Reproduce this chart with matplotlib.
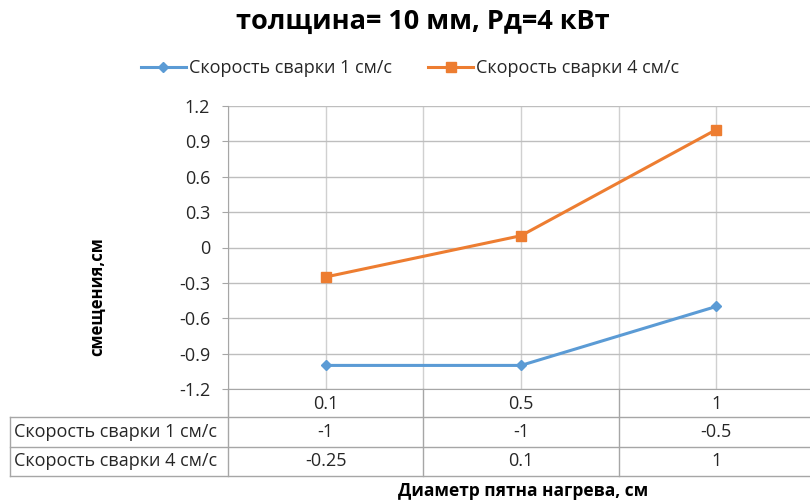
import matplotlib
matplotlib.use("Agg")
import matplotlib.pyplot as plt
from matplotlib.lines import Line2D

plt.rcParams['font.family'] = ['Open Sans', 'DejaVu Sans']

# Data
categories = ["0.1", "0.5", "1"]
series_names = ["Скорость сварки 1 см/с", "Скорость сварки 4 см/с"]
speed_1 = [-1, -1, -0.5]
speed_4 = [-0.25, 0.1, 1]
table_text_1 = ["-1", "-1", "-0.5"]
table_text_4 = ["-0.25", "0.1", "1"]
yticks = [-1.2, -0.9, -0.6, -0.3, 0, 0.3, 0.6, 0.9, 1.2]
ytick_labels = ["-1.2", "-0.9", "-0.6", "-0.3", "0", "0.3", "0.6", "0.9", "1.2"]

title = "толщина= 10 мм, Рд=4 кВт"
xlabel = "Диаметр пятна нагрева, см"
ylabel = "смещения,см"

BLUE = "#5B9BD5"
ORANGE = "#ED7D31"
GRID_H = "#BEBEBE"
GRID_V = "#D0D0D0"
BORDER = "#A6A6A6"
TEXT = "#262626"

W, H = 810, 503
fig = plt.figure(figsize=(W / 100, H / 100), dpi=100)
fig.patch.set_facecolor("white")


def fx(px):
    return px / W


def fy(py):
    return 1 - py / H


# plot area (pixel bounds)
L, R, T, B = 228, 814, 106, 389
ax = fig.add_axes([fx(L), fy(B), fx(R) - fx(L), fy(T) - fy(B)])
ax.set_xlim(-0.5, len(categories) - 0.5)
ax.set_ylim(yticks[0], yticks[-1])

x = list(range(len(categories)))
ax.plot(x, speed_1, color=BLUE, lw=2.2, marker="D", ms=5.5, mec=BLUE, mfc=BLUE,
        label=series_names[0], zorder=3, clip_on=False)
ax.plot(x, speed_4, color=ORANGE, lw=2.2, marker="s", ms=6.5, mec=ORANGE, mfc=ORANGE,
        label=series_names[1], zorder=3, clip_on=False)

tfs = 13
ax.set_yticks(yticks)
ax.set_yticklabels(ytick_labels, fontsize=tfs, color=TEXT)
ax.set_xticks(x)
ax.set_xticks([i - 0.5 for i in x], minor=True)
ax.tick_params(axis="x", which="both", length=0, labelbottom=False)
ax.tick_params(axis="y", length=4.3, color=BORDER, pad=8.6)
ax.grid(axis="y", color=GRID_H, lw=1.0)
ax.grid(axis="x", which="major", color=GRID_V, lw=1.0)
ax.grid(axis="x", which="minor", color=GRID_V, lw=1.0)
ax.set_axisbelow(True)
for s in ["top", "right"]:
    ax.spines[s].set_visible(False)
ax.spines["left"].set_color(BORDER)
ax.spines["bottom"].set_color(BORDER)

# data table below the plot area
row_lines = [417, 447, 476]
col_px = [L + (R - L) * i / len(categories) for i in range(len(categories) + 1)]
tbl_left = 10


def hline(y, x0, x1):
    fig.add_artist(Line2D([fx(x0), fx(x1)], [fy(y), fy(y)], color=BORDER, lw=1.0))


def vline(xp, y0, y1):
    fig.add_artist(Line2D([fx(xp), fx(xp)], [fy(y0), fy(y1)], color=BORDER, lw=1.0))


for yl in row_lines:
    hline(yl, tbl_left, R)
vline(tbl_left, row_lines[0], row_lines[-1])
for cp in col_px:
    vline(cp, B, row_lines[-1])

for i, c in enumerate(categories):
    cx = (col_px[i] + col_px[i + 1]) / 2
    fig.text(fx(cx), fy((B + row_lines[0]) / 2 + 1), c, ha="center", va="center",
             fontsize=tfs, color=TEXT)
rows = [(series_names[0], table_text_1), (series_names[1], table_text_4)]
for r, (name, vals) in enumerate(rows):
    yc = (row_lines[r] + row_lines[r + 1]) / 2
    fig.text(fx(tbl_left + 4), fy(yc), name, ha="left", va="center",
             fontsize=tfs, color=TEXT)
    for i, v in enumerate(vals):
        cx = (col_px[i] + col_px[i + 1]) / 2
        fig.text(fx(cx), fy(yc), v, ha="center", va="center", fontsize=tfs, color=TEXT)

# titles and axis labels
fig.text(fx(423), fy(22), title, ha="center", va="center", fontsize=19.5,
         fontweight="bold", color="black")
fig.text(fx(523), fy(491), xlabel, ha="center", va="center", fontsize=12.5,
         fontweight="bold", color="black")
fig.text(fx(97), fy(297), ylabel, ha="center", va="center", fontsize=12,
         fontweight="bold", color="black", rotation=90)

# legend
leg = fig.legend(handles=ax.get_lines(), labels=series_names, loc="center",
                 bbox_to_anchor=(fx(410), fy(68)), ncol=2, frameon=False,
                 fontsize=tfs, handlelength=2.5, columnspacing=2.0,
                 handletextpad=0.17)
for t in leg.get_texts():
    t.set_color(TEXT)

fig.savefig("out.png", dpi=100, facecolor="white")
